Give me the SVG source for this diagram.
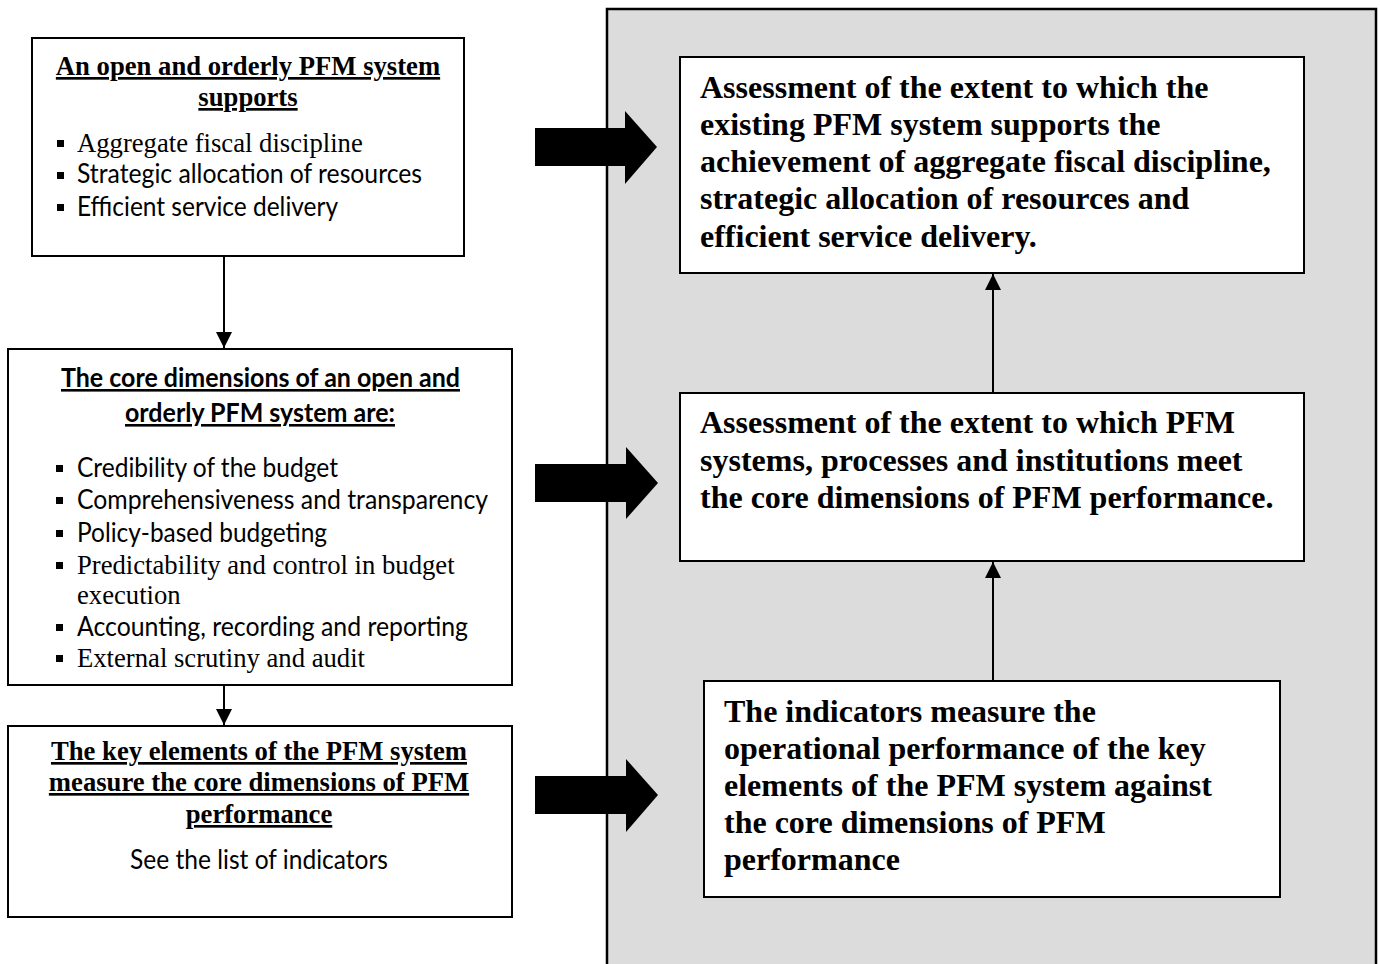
<svg xmlns="http://www.w3.org/2000/svg" width="1380" height="964" viewBox="0 0 1380 964">
<style>
.box{fill:#fff;stroke:#000;stroke-width:2}
.panel{fill:#dcdcdc;stroke:#000;stroke-width:2.5}
.tb{font-family:"Liberation Serif","Times New Roman",serif;font-weight:bold;font-size:26.67px;fill:#000}
.tr{font-family:"Liberation Serif","Times New Roman",serif;font-size:26.67px;fill:#000}
.cr{font-family:Lato,"Open Sans",sans-serif;font-size:26px;fill:#000}
.cb{font-family:Lato,"Open Sans",sans-serif;font-weight:bold;font-size:26px;fill:#000}
.big{font-family:"Liberation Serif","Times New Roman",serif;font-weight:bold;font-size:32px;fill:#000}
.u{text-decoration:underline}
.mid{text-anchor:middle}
.bul{fill:#000}
.conn{stroke:#000;stroke-width:2;fill:none}
.block{fill:#000}
</style>
<defs>
<marker id="ah" viewBox="0 0 10 10" refX="10" refY="5" markerWidth="8" markerHeight="8" markerUnits="userSpaceOnUse" orient="auto">
<path d="M0,0 L10,5 L0,10 z" fill="#000"/>
</marker>
<marker id="ahs" viewBox="0 0 10 10" refX="10" refY="5" markerWidth="16" markerHeight="16" markerUnits="userSpaceOnUse" orient="auto">
<path d="M0,0 L10,5 L0,10 z" fill="#000"/>
</marker>
</defs>
<rect width="1380" height="964" fill="#fff"/>
<g id="panel">
<rect class="panel" x="607" y="9" width="769" height="970"/>
</g>
<g id="box1">
<rect class="box" x="32" y="38" width="432" height="218"/>
<text class="tb u mid" x="248" y="75">An open and orderly PFM system</text>
<text class="tb u mid" x="248" y="106">supports</text>
<rect class="bul" x="57" y="140" width="7" height="7"/>
<text class="tr" x="77" y="152">Aggregate fiscal discipline</text>
<rect class="bul" x="57" y="172" width="7" height="7"/>
<text class="cr" x="77" y="183" textLength="345" lengthAdjust="spacingAndGlyphs">Strategic allocation of resources</text>
<rect class="bul" x="57" y="204" width="7" height="7"/>
<text class="cr" x="77" y="216" textLength="261" lengthAdjust="spacingAndGlyphs">Efficient service delivery</text>
</g>
<g id="box2">
<rect class="box" x="8" y="349" width="504" height="336"/>
<text class="cb u" x="61" y="387" textLength="399" lengthAdjust="spacingAndGlyphs">The core dimensions of an open and</text>
<text class="cb u" x="125" y="422" textLength="270" lengthAdjust="spacingAndGlyphs">orderly PFM system are:</text>
<rect class="bul" x="56" y="465" width="7" height="7"/>
<text class="cr" x="77" y="477" textLength="261" lengthAdjust="spacingAndGlyphs">Credibility of the budget</text>
<rect class="bul" x="56" y="497" width="7" height="7"/>
<text class="cr" x="77" y="509" textLength="411" lengthAdjust="spacingAndGlyphs">Comprehensiveness and transparency</text>
<rect class="bul" x="56" y="530" width="7" height="7"/>
<text class="cr" x="77" y="542" textLength="250" lengthAdjust="spacingAndGlyphs">Policy-based budgeting</text>
<rect class="bul" x="56" y="562" width="7" height="7"/>
<text class="tr" x="77" y="574">Predictability and control in budget</text>
<text class="tr" x="77" y="604">execution</text>
<rect class="bul" x="56" y="624" width="7" height="7"/>
<text class="cr" x="77" y="636" textLength="391" lengthAdjust="spacingAndGlyphs">Accounting, recording and reporting</text>
<rect class="bul" x="56" y="655" width="7" height="7"/>
<text class="tr" x="77" y="667">External scrutiny and audit</text>
</g>
<g id="box3">
<rect class="box" x="8" y="726" width="504" height="191"/>
<text class="tb u mid" x="259" y="760">The key elements of the PFM system</text>
<text class="tb u mid" x="259" y="791">measure the core dimensions of PFM</text>
<text class="tb u mid" x="259" y="823">performance</text>
<text class="cr mid" x="259" y="869" textLength="258" lengthAdjust="spacingAndGlyphs">See the list of indicators</text>
</g>
<g id="rbox1">
<rect class="box" x="680" y="57" width="624" height="216"/>
<text class="big" x="700" y="98">Assessment of the extent to which the</text>
<text class="big" x="700" y="135">existing PFM system supports the</text>
<text class="big" x="700" y="172">achievement of aggregate fiscal discipline,</text>
<text class="big" x="700" y="209">strategic allocation of resources and</text>
<text class="big" x="700" y="247">efficient service delivery.</text>
</g>
<g id="rbox2">
<rect class="box" x="680" y="393" width="624" height="168"/>
<text class="big" x="700" y="433">Assessment of the extent to which PFM</text>
<text class="big" x="700" y="471">systems, processes and institutions meet</text>
<text class="big" x="700" y="508">the core dimensions of PFM performance.</text>
</g>
<g id="rbox3">
<rect class="box" x="704" y="681" width="576" height="216"/>
<text class="big" x="724" y="722">The indicators measure the</text>
<text class="big" x="724" y="759">operational performance of the key</text>
<text class="big" x="724" y="796">elements of the PFM system against</text>
<text class="big" x="724" y="833">the core dimensions of PFM</text>
<text class="big" x="724" y="870">performance</text>
</g>
<g id="connectors">
<line class="conn" x1="224" y1="256" x2="224" y2="348" marker-end="url(#ahs)"/>
<line class="conn" x1="224" y1="685" x2="224" y2="725" marker-end="url(#ahs)"/>
<line class="conn" x1="993" y1="393" x2="993" y2="274" marker-end="url(#ahs)"/>
<line class="conn" x1="993" y1="681" x2="993" y2="562" marker-end="url(#ahs)"/>
<path class="block" d="M535,128 L625,128 L625,111 L657,147 L625,184 L625,166 L535,166 Z"/>
<path class="block" d="M535,464 L626,464 L626,447 L658,483 L626,519 L626,502 L535,502 Z"/>
<path class="block" d="M535,776 L626,776 L626,759 L658,795 L626,832 L626,814 L535,814 Z"/>
</g>
</svg>
